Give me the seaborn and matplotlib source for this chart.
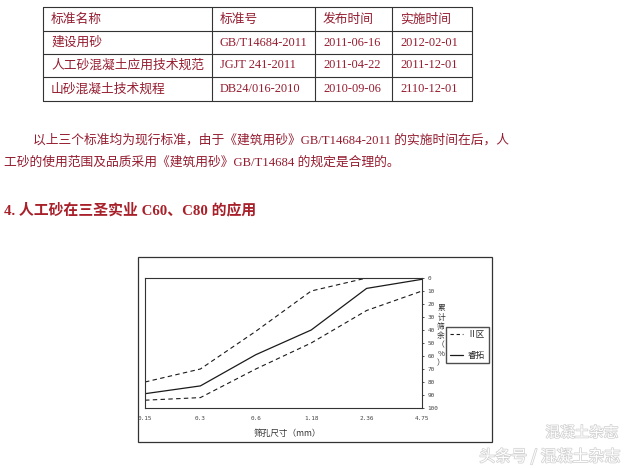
import pandas as pd
import seaborn as sns
import matplotlib.pyplot as plt
import matplotlib.patheffects as pe
from matplotlib.lines import Line2D
from matplotlib.patches import Rectangle

# --- table data ---
TABLE_HEADER = ['标准名称', '标准号', '发布时间', '实施时间']
STD_NAMES = ['建设用砂', '人工砂混凝土应用技术规范', '山砂混凝土技术规程']
STD_CODES = ['GB/T14684-2011', 'JGJT 241-2011', 'DB24/016-2010']
PUBLISH_DATES = ['2011-06-16', '2011-04-22', '2010-09-06']
IMPLEMENT_DATES = ['2012-02-01', '2011-12-01', '2110-12-01']

PARAGRAPH = [
    '以上三个标准均为现行标准，由于《建筑用砂》GB/T14684-2011 的实施时间在后，人',
    '工砂的使用范围及品质采用《建筑用砂》GB/T14684 的规定是合理的。',
]
HEADING = '4. 人工砂在三圣实业 C60、C80 的应用'

# --- grading curve data (cumulative retained, %) ---
SIEVE_SIZES = ['0.15', '0.3', '0.6', '1.18', '2.36', '4.75']
ZONE2_UPPER = [80, 70, 41, 10, 0, 0]
ZONE2_LOWER = [94, 92, 70, 50, 25, 10]
RUITUO = [89, 83, 59, 40, 8, 1]
Y_TICKS = [0, 10, 20, 30, 40, 50, 60, 70, 80, 90, 100]

RED_TEXT = '#951d30'
HEAD_RED = '#a8202a'
INK = '#1a1a1a'
SERIF_CJK = ['Liberation Serif', 'Noto Sans CJK SC']

W, H = 640, 469


def fx(px):
    return px / W


def fy(py):
    return 1 - py / H


sns.set_style('white')
plt.rcParams['font.family'] = ['Noto Sans CJK SC', 'DejaVu Sans']

fig = plt.figure(figsize=(6.4, 4.69), dpi=100)
fig.patch.set_facecolor('white')

# ---------------- table ----------------
col_edges = [43, 212, 315, 392, 472]
row_edges = [7, 31, 54, 77, 101]
for x in col_edges:
    fig.add_artist(Line2D([fx(x), fx(x)], [fy(row_edges[0]), fy(row_edges[-1])],
                          color='#333333', lw=0.8))
for y in row_edges:
    fig.add_artist(Line2D([fx(col_edges[0]), fx(col_edges[-1])], [fy(y), fy(y)],
                          color='#333333', lw=0.8))

rows = [TABLE_HEADER] + [list(r) for r in zip(STD_NAMES, STD_CODES, PUBLISH_DATES, IMPLEMENT_DATES)]
for i, row in enumerate(rows):
    yc = (row_edges[i] + row_edges[i + 1]) / 2
    for j, cell in enumerate(row):
        if i > 0 and j > 0:
            fig.text(fx(col_edges[j] + 8), fy(yc), cell, fontsize=8.9, color=RED_TEXT,
                     family=SERIF_CJK, ha='left', va='center')
        else:
            fig.text(fx(col_edges[j] + 8), fy(yc), cell, fontsize=9.2, color=RED_TEXT,
                     ha='left', va='center')

# ---------------- paragraph + heading ----------------
fig.text(fx(33), fy(140), PARAGRAPH[0], fontsize=9.2, color=RED_TEXT, family=SERIF_CJK,
         ha='left', va='center')
fig.text(fx(4), fy(162), PARAGRAPH[1], fontsize=9.2, color=RED_TEXT, family=SERIF_CJK,
         ha='left', va='center')
fig.text(fx(4), fy(210), HEADING, fontsize=10.7, fontweight='bold', color=HEAD_RED,
         family=SERIF_CJK, ha='left', va='center')

# ---------------- chart frame ----------------
fig.add_artist(Rectangle((fx(138), fy(442)), (492 - 138) / W, (442 - 257) / H,
                         transform=fig.transFigure, fill=False, edgecolor='#333333', lw=0.9))

ax = fig.add_axes([fx(145), fy(408), (422 - 145) / W, (408 - 278) / H])

curves = pd.DataFrame({
    'sieve': SIEVE_SIZES,
    'upper': ZONE2_UPPER,
    'lower': ZONE2_LOWER,
    'ruituo': RUITUO,
})

sns.lineplot(data=curves, x='sieve', y='upper', ax=ax, color=INK, lw=0.8,
             linestyle=(0, (4, 3)), sort=False)
sns.lineplot(data=curves, x='sieve', y='lower', ax=ax, color=INK, lw=0.8,
             linestyle=(0, (4, 3)), sort=False)
sns.lineplot(data=curves, x='sieve', y='ruituo', ax=ax, color=INK, lw=0.9, sort=False)

ax.set_xlim(0, len(SIEVE_SIZES) - 1)
ax.set_ylim(100, 0)
ax.set_yticks(Y_TICKS)
ax.yaxis.tick_right()
ax.set_xlabel('')
ax.set_ylabel('')
ax.tick_params(axis='both', labelsize=4.3, labelcolor='#444444', length=1.5,
               width=0.6, color='#333333')
ax.tick_params(axis='x', pad=4)
ax.tick_params(axis='y', pad=2.5)
for lab in ax.get_xticklabels() + ax.get_yticklabels():
    lab.set_fontfamily('DejaVu Sans Mono')
for sp in ax.spines.values():
    sp.set_color('#333333')
    sp.set_linewidth(0.8)

fig.text(fx(287), fy(433), '筛孔尺寸（mm）', fontsize=6.2, color='#333333',
         ha='center', va='center')
fig.text(fx(441), fy(336), '累\n计\n筛\n余\n（\n%\n）', fontsize=5.6, color='#333333',
         ha='center', va='center', linespacing=1.2, multialignment='center')

handles = [
    Line2D([], [], color=INK, lw=0.8, linestyle=(0, (3, 2.5)), label='Ⅱ区'),
    Line2D([], [], color=INK, lw=0.9, label='睿拓'),
]
fig.legend(handles=handles, loc='center', bbox_to_anchor=(fx(467.5), fy(345)),
           frameon=True, fancybox=False, edgecolor='#222222', fontsize=6.2,
           handlelength=1.5, handletextpad=0.5, labelspacing=1.3, borderpad=0.45,
           borderaxespad=0)

# ---------------- watermark ----------------
stroke = [pe.withStroke(linewidth=1.1, foreground='#d2d2d2')]
fig.text(fx(582), fy(433), '混凝土杂志', fontsize=10.5, color='white',
         ha='center', va='center', path_effects=stroke)
fig.text(fx(550), fy(457), '头条号 / 混凝土杂志', fontsize=11.5, color='white',
         ha='center', va='center', path_effects=stroke)

fig.savefig('out.png', dpi=100, facecolor='white')
